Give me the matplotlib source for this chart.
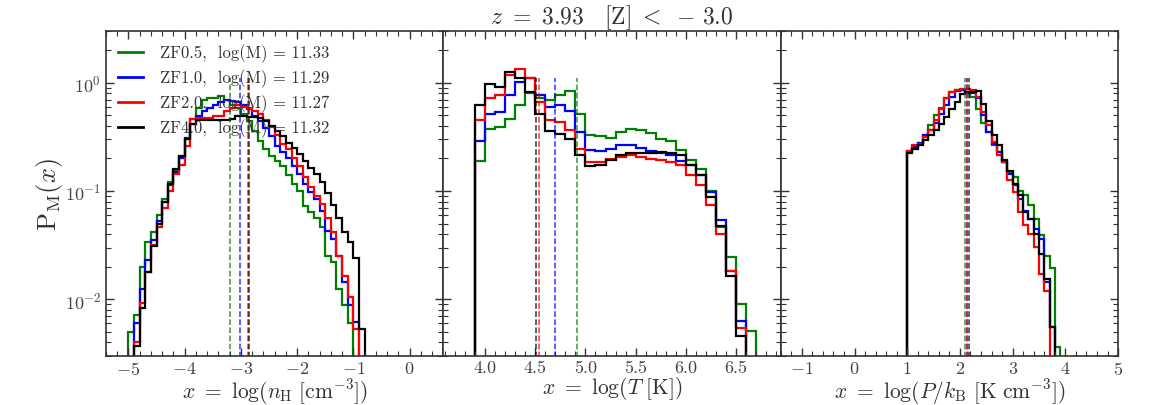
import matplotlib

matplotlib.use("Agg")
import matplotlib.pyplot as plt
import numpy as np
from matplotlib.lines import Line2D
from matplotlib.ticker import FormatStrFormatter, MultipleLocator

plt.rcParams.update({
    "font.family": "serif",
    "font.serif": ["cmr10"],
    "mathtext.fontset": "cm",
    "axes.formatter.use_mathtext": True,
    "axes.unicode_minus": True,
})

# ---- data ----
runs = ["ZF0.5", "ZF1.0", "ZF2.0", "ZF4.0"]
log_mass = [11.33, 11.29, 11.27, 11.32]
colors = ["green", "blue", "red", "black"]
bin_width = 0.1

# panel 1: log n_H
nh_start = [-5.0, -4.9, -4.9, -4.9]
nh_zf05 = [0.005, 0.0071, 0.020, 0.034, 0.042, 0.060, 0.085, 0.12, 0.158, 0.20,
           0.30, 0.42, 0.58, 0.69, 0.72, 0.72, 0.76, 0.70, 0.62, 0.58,
           0.52, 0.44, 0.36, 0.29, 0.245, 0.21, 0.19, 0.17, 0.14, 0.117,
           0.10, 0.073, 0.064, 0.056, 0.047, 0.025, 0.022, 0.0125, 0.0088, 0.006]
nh_zf10 = [0.006, 0.0125, 0.023, 0.035, 0.053, 0.079, 0.113, 0.15, 0.2, 0.31,
           0.46, 0.49, 0.55, 0.58, 0.62, 0.67, 0.69, 0.68, 0.66, 0.62,
           0.57, 0.49, 0.44, 0.38, 0.32, 0.26, 0.23, 0.2, 0.17, 0.145,
           0.117, 0.098, 0.085, 0.066, 0.043, 0.036, 0.025, 0.0145, 0.0088, 0.0062]
nh_zf20 = [0.004, 0.0093, 0.018, 0.032, 0.047, 0.07, 0.1, 0.145, 0.175, 0.26,
           0.46, 0.47, 0.47, 0.47, 0.49, 0.49, 0.55, 0.58, 0.62, 0.60,
           0.58, 0.55, 0.52, 0.45, 0.39, 0.33, 0.27, 0.245, 0.2, 0.17,
           0.135, 0.11, 0.09, 0.076, 0.056, 0.042, 0.025, 0.0165, 0.0105, 0.0053]
nh_zf40 = [0.0037, 0.0083, 0.018, 0.031, 0.05, 0.08, 0.115, 0.16, 0.21, 0.30,
           0.42, 0.45, 0.45, 0.45, 0.45, 0.45, 0.45, 0.46, 0.49, 0.49,
           0.48, 0.48, 0.47, 0.44, 0.40, 0.36, 0.32, 0.28, 0.25, 0.22,
           0.19, 0.165, 0.145, 0.12, 0.095, 0.075, 0.056, 0.042, 0.034, 0.024, 0.0053]
nh_median = [-3.19, -3.02, -2.87, -2.85]

# panel 2: log T
t_start = [3.9, 3.9, 3.9, 3.9]
t_zf05 = [0.188, 0.372, 0.391, 0.467, 0.621, 0.808, 0.716, 0.691, 0.769, 0.837,
          0.520, 0.328, 0.321, 0.31, 0.352, 0.378, 0.370, 0.344, 0.305, 0.288,
          0.238, 0.192, 0.161, 0.101, 0.0464, 0.0245, 0.00906, 0.00513]
t_zf10 = [0.288, 0.52, 0.539, 0.769, 1.02, 1.11, 0.769, 0.60, 0.621, 0.547,
          0.352, 0.241, 0.233, 0.243, 0.265, 0.269, 0.25, 0.233, 0.226, 0.217,
          0.188, 0.173, 0.14, 0.098, 0.054, 0.0184, 0.0063]
t_zf20 = [0.451, 0.716, 0.769, 1.19, 1.33, 1.10, 0.667, 0.451, 0.435, 0.364,
          0.247, 0.186, 0.186, 0.199, 0.207, 0.214, 0.207, 0.199, 0.192, 0.186,
          0.173, 0.14, 0.113, 0.074, 0.0402, 0.0184, 0.0054]
t_zf40 = [0.621, 0.965, 0.918, 1.25, 1.10, 0.825, 0.52, 0.357, 0.333, 0.305,
          0.214, 0.169, 0.173, 0.192, 0.217, 0.226, 0.226, 0.225, 0.23, 0.226,
          0.214, 0.173, 0.14, 0.088, 0.048, 0.0166, 0.0046]
t_median = [4.92, 4.70, 4.54, 4.51]

# panel 3: log P/k_B
p_start = [1.0, 1.0, 1.0, 1.0]
p_zf05 = [0.230, 0.255, 0.280, 0.328, 0.406, 0.502, 0.587, 0.716, 0.825, 0.855,
          0.855, 0.797, 0.742, 0.578, 0.429, 0.352, 0.265, 0.230, 0.186, 0.150,
          0.135, 0.101, 0.0912, 0.0737, 0.0555, 0.0389, 0.0254, 0.0194, 0.0036]
p_zf10 = [0.233, 0.255, 0.280, 0.328, 0.365, 0.429, 0.520, 0.621, 0.742, 0.837,
          0.855, 0.825, 0.797, 0.716, 0.502, 0.352, 0.274, 0.230, 0.186, 0.145,
          0.113, 0.085, 0.066, 0.0555, 0.0448, 0.0362, 0.0145, 0.0055]
p_zf20 = [0.233, 0.265, 0.274, 0.316, 0.365, 0.451, 0.578, 0.716, 0.814, 0.855,
          0.874, 0.874, 0.855, 0.742, 0.539, 0.406, 0.284, 0.214, 0.186, 0.126,
          0.098, 0.064, 0.0481, 0.0403, 0.0303, 0.0172, 0.0120]
p_zf40 = [0.226, 0.247, 0.265, 0.294, 0.328, 0.365, 0.420, 0.484, 0.570, 0.667,
          0.780, 0.814, 0.825, 0.837, 0.630, 0.442, 0.332, 0.265, 0.195, 0.152,
          0.117, 0.0912, 0.064, 0.0555, 0.0403, 0.0263, 0.0154, 0.0055]
p_median = [2.10, 2.13, 2.14, 2.18]

panels = [
    dict(start=nh_start, hists=[nh_zf05, nh_zf10, nh_zf20, nh_zf40], med=nh_median,
         xlim=(-5.4, 0.6), major=1.0, minor=0.2,
         xlabel=r"$x\ =\ \log(n_{\rm H}\ [{\rm cm}^{-3}])$"),
    dict(start=t_start, hists=[t_zf05, t_zf10, t_zf20, t_zf40], med=t_median,
         xlim=(3.58, 6.95), major=0.5, minor=0.1,
         xlabel=r"$x\ =\ \log(T\ [{\rm K}])$"),
    dict(start=p_start, hists=[p_zf05, p_zf10, p_zf20, p_zf40], med=p_median,
         xlim=(-1.4, 5.0), major=1.0, minor=0.2,
         xlabel=r"$x\ =\ \log(P/k_{\rm B}\ [{\rm K\ cm}^{-3}])$"),
]

fig, axes = plt.subplots(1, 3, figsize=(11.72, 4.06), dpi=100, sharey=True)
fig.subplots_adjust(left=0.0904, right=0.954, top=0.921, bottom=0.1207, wspace=0)

for ax, p in zip(axes, panels):
    for start, vals, med, c in zip(p["start"], p["hists"], p["med"], colors):
        vals = np.asarray(vals)
        edges = start + bin_width * np.arange(len(vals) + 1)
        ax.stairs(vals, edges, baseline=1e-5, color=c, lw=1.6)
        ax.vlines(med, 1e-5, 1.1, colors=c, linestyles="--", lw=1.1, alpha=0.8)
    ax.set_yscale("log")
    ax.set_ylim(3e-3, 3.0)
    ax.set_xlim(*p["xlim"])
    ax.xaxis.set_major_locator(MultipleLocator(p["major"]))
    ax.xaxis.set_minor_locator(MultipleLocator(p["minor"]))
    ax.tick_params(which="both", direction="in", top=True, right=True,
                   labelsize=13, colors="#333333", labelcolor="#444444")
    ax.tick_params(which="major", length=6, width=1)
    ax.tick_params(which="minor", length=3.5, width=0.8)
    ax.tick_params(axis="x", pad=3)
    ax.set_xlabel(p["xlabel"], fontsize=15.5, labelpad=-1, color="#333333")
    for s in ax.spines.values():
        s.set_linewidth(1.2)
        s.set_color("#333333")

axes[1].xaxis.set_major_formatter(FormatStrFormatter("%.1f"))
axes[0].set_ylabel(r"${\rm P_M}(x)$", fontsize=19, labelpad=0, color="#333333")
axes[1].set_title(r"$z\ =\ 3.93\ \ \ [{\rm Z}]\ <\ -\,3.0$", fontsize=17, pad=6,
                  color="#333333")

handles = [Line2D([], [], color=c, lw=2) for c in colors]
labels = [f"{r},  log(M) = {m:.2f}" for r, m in zip(runs, log_mass)]
leg = axes[0].legend(handles, labels, loc="upper left", frameon=False, fontsize=12,
                     handlelength=1.5, handletextpad=1.0, labelspacing=0.38,
                     borderaxespad=0.35)
for t in leg.get_texts():
    t.set_color("#333333")

fig.savefig("out.png", dpi=100)
